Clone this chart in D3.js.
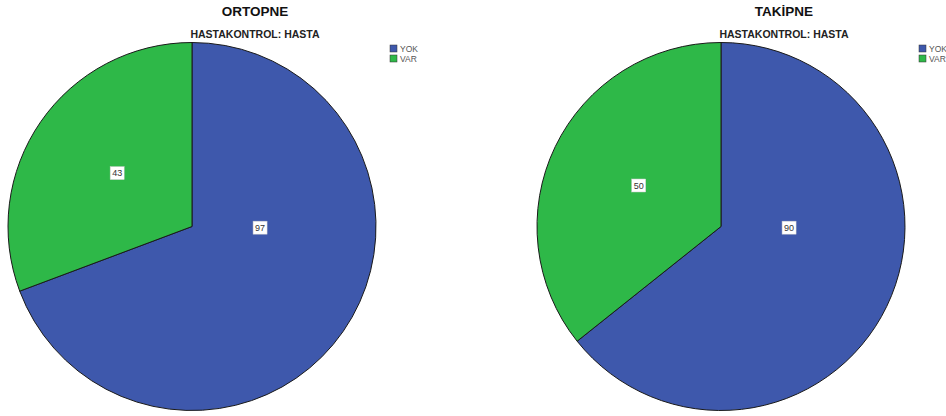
<!DOCTYPE html>
<html>
<head>
<meta charset="utf-8">
<script src="https://cdn.jsdelivr.net/npm/d3@7"></script>
<style>
  html, body { margin: 0; padding: 0; background: #fff; }
  svg { display: block; }
</style>
</head>
<body>
<svg id="chart" width="946" height="416"></svg>
<script>
// Symptom counts among patients (HASTAKONTROL: HASTA)
const categories = ["YOK", "VAR"];
const colors = ["#3E58AC", "#2EB848"];
const chartTitles = ["ORTOPNE", "TAKİPNE"];
const subtitle = "HASTAKONTROL: HASTA";
const ortopneValues = [97, 43];
const takipneValues = [90, 50];

const svg = d3.select("#chart");
const font = "'Liberation Sans', Arial, sans-serif";

const panels = [
  { title: chartTitles[0], values: ortopneValues, cx: 192, cy: 226.5 },
  { title: chartTitles[1], values: takipneValues, cx: 721, cy: 226.5 }
];

const radius = 184;
const color = d3.scaleOrdinal().domain(categories).range(colors);
const pie = d3.pie().sort(null).value(d => d.value);
const arc = d3.arc().innerRadius(0).outerRadius(radius);

panels.forEach(p => {
  const g = svg.append("g");
  const data = categories.map((c, i) => ({ cat: c, value: p.values[i] }));
  const arcs = pie(data);

  // titles
  g.append("text")
    .attr("x", p.cx + 63).attr("y", 15.5)
    .attr("text-anchor", "middle")
    .attr("font-family", font).attr("font-weight", "bold")
    .attr("font-size", 13.5).attr("fill", "#111")
    .text(p.title);
  g.append("text")
    .attr("x", p.cx + 63).attr("y", 38)
    .attr("text-anchor", "middle")
    .attr("font-family", font).attr("font-weight", "bold")
    .attr("font-size", 10.5).attr("fill", "#222")
    .text(subtitle);

  // slices
  const pieG = g.append("g").attr("transform", `translate(${p.cx},${p.cy})`);
  pieG.selectAll("path")
    .data(arcs)
    .join("path")
    .attr("d", arc)
    .attr("fill", d => color(d.data.cat))
    .attr("stroke", "#1a1a1a")
    .attr("stroke-width", 1);

  // value labels
  arcs.forEach(d => {
    const span = d.endAngle - d.startAngle;
    let ang, rr;
    if (span > Math.PI) { ang = Math.PI / 2 + 0.015; rr = radius * 0.37; }
    else { ang = (d.startAngle + d.endAngle) / 2 + 0.015; rr = radius * 0.50; }
    const x = rr * Math.sin(ang), y = -rr * Math.cos(ang);
    const lg = pieG.append("g").attr("transform", `translate(${x},${y})`);
    const t = lg.append("text")
      .attr("text-anchor", "middle").attr("dy", "0.35em")
      .attr("font-family", font).attr("font-size", 9).attr("fill", "#333")
      .text(d.data.value);
    const bb = t.node().getBBox();
    lg.insert("rect", "text")
      .attr("x", bb.x - 2).attr("y", bb.y - 1.5)
      .attr("width", bb.width + 4).attr("height", bb.height + 3)
      .attr("fill", "#fff").attr("stroke", "#ccc").attr("stroke-width", 0.5);
  });

  // legend
  const leg = g.append("g").attr("transform", `translate(${p.cx + 198},${45})`);
  categories.forEach((c, i) => {
    leg.append("rect")
      .attr("x", 0).attr("y", i * 10)
      .attr("width", 7).attr("height", 7)
      .attr("fill", color(c)).attr("stroke", "#333").attr("stroke-width", 0.5);
    leg.append("text")
      .attr("x", 10).attr("y", i * 10 + 7)
      .attr("font-family", font).attr("font-size", 8.5).attr("fill", "#555")
      .text(c);
  });
});
</script>
</body>
</html>
